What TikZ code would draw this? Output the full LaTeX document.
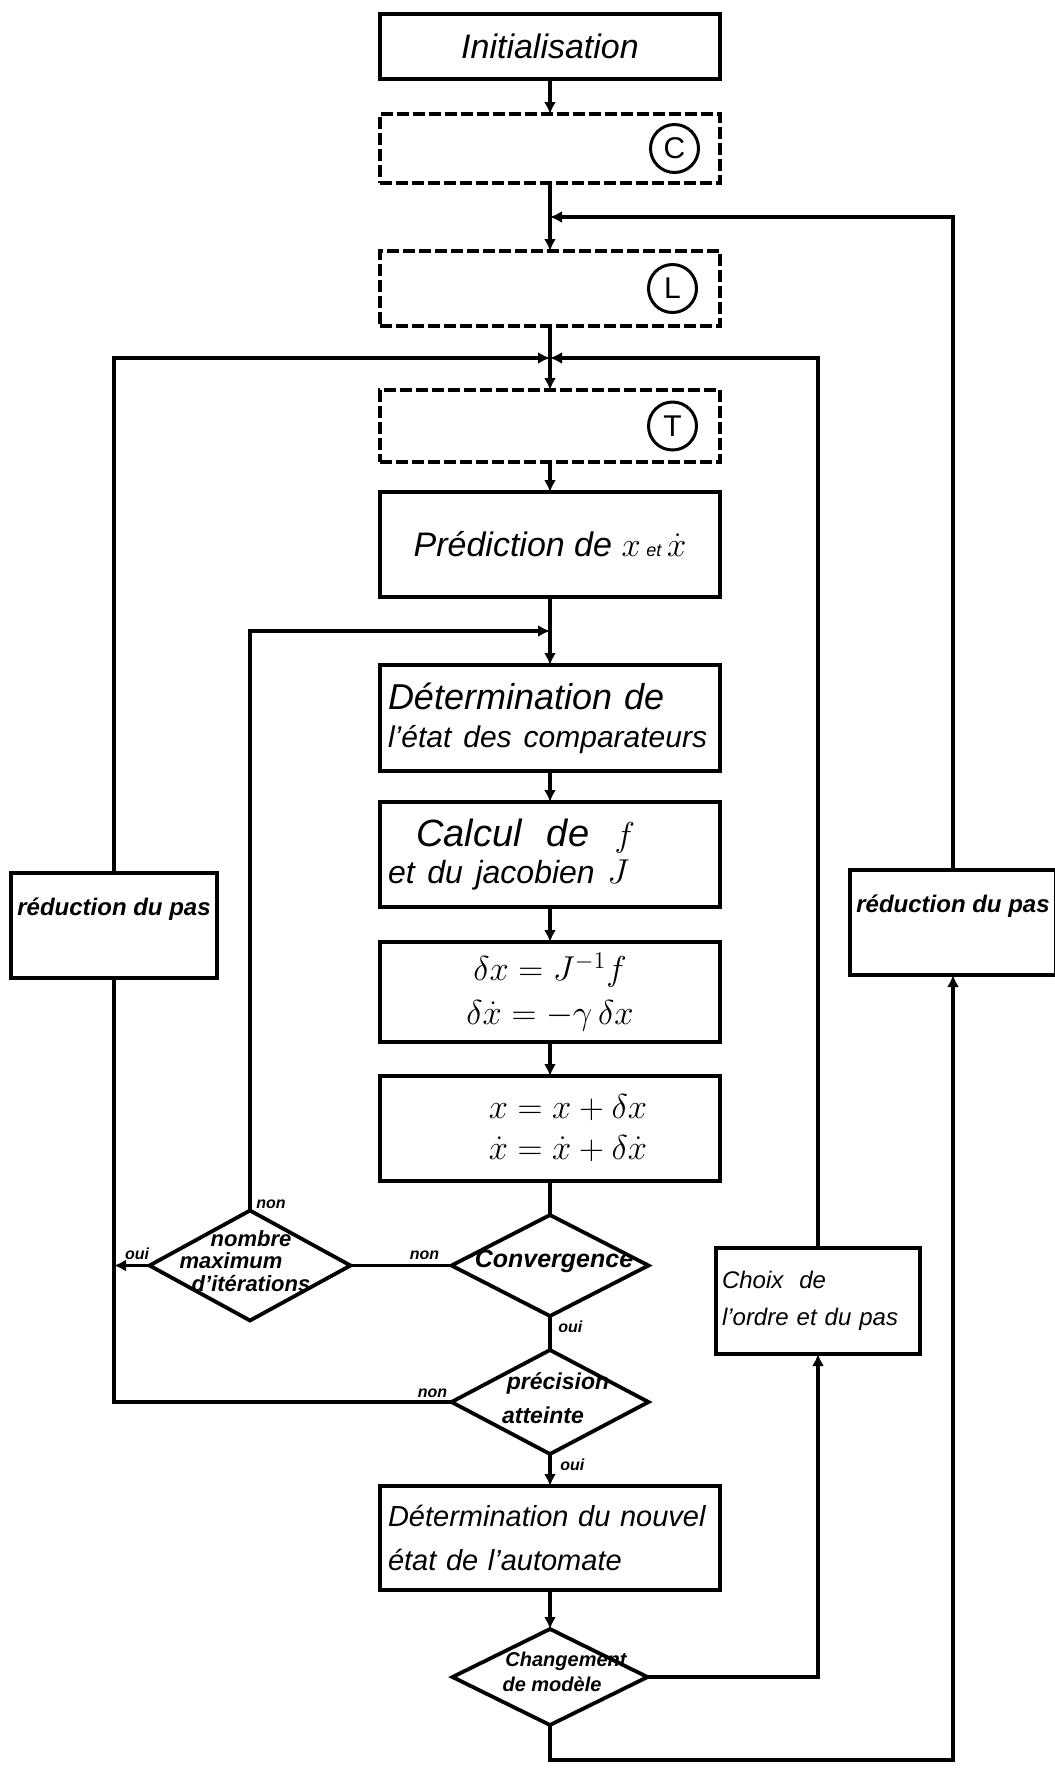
\documentclass[tikz,border=0pt]{standalone}
\usepackage{fontspec}
\setmainfont{Liberation Sans}
\usetikzlibrary{arrows.meta, positioning, shapes.geometric, calc}
\newcommand{\dtext}[3]{\makebox[0pt]{\hspace*{#1}\hspace*{#1}\raisebox{#2}[0pt][0pt]{\begin{tabular}{@{}c@{}}#3\end{tabular}}}}
\tikzset{
  box/.style={rectangle, draw, line width=1.9pt, outer sep=0pt, minimum width=170pt, align=center, inner sep=3pt},
  boxl/.style={box, text width=162pt, align=left},
  dbox/.style={box, dash pattern=on 6pt off 2pt},
  sidebox/.style={box, minimum width=102pt, minimum height=52.5pt, text depth=19pt,
    font=\fontsize{12}{14}\selectfont\bfseries\itshape},
  letter/.style={circle, draw, line width=1.5pt, minimum size=24pt, inner sep=0pt, font=\fontsize{15}{15}\selectfont},
  decide/.style={diamond, draw, line width=1.9pt, outer sep=0pt, inner sep=0pt, font=\bfseries\itshape},
  lab/.style={font=\fontsize{8}{9}\selectfont\bfseries\itshape, inner sep=1pt},
  wire/.style={line width=1.9pt},
  arrow/.style={wire, -{Latex[length=6pt, width=6pt]}},
}
\begin{document}
\begin{tikzpicture}[x=1pt, y=1pt, node distance=17pt]
\path[fill=white, use as bounding box] (0,0) rectangle (527.5,-884);
% main column
\node[box, anchor=north, minimum height=32.5pt, font=\fontsize{17}{20}\selectfont\itshape] (init) at (275,-7) {Initialisation};
\node[dbox, minimum height=34.5pt, below=17.5pt of init] (cbox) {};
\node[dbox, minimum height=37.5pt, below=34pt of cbox] (lbox) {};
\node[dbox, minimum height=36pt, below=32pt of lbox] (tbox) {};
\node[box, minimum height=52.5pt, below=15pt of tbox, font=\fontsize{17}{20}\selectfont\itshape] (pred) {Prédiction de $x$\,{\fontsize{9}{9}\selectfont et}\,$\dot{x}$};
\node[boxl, minimum height=53pt, below=34pt of pred, font=\fontsize{18}{19}\selectfont\itshape] (etat) {Détermination de\\{\fontsize{15}{19}\selectfont l'état des comparateurs}};
\node[boxl, minimum height=52.5pt, below=15.5pt of etat, font=\fontsize{19}{18.5}\selectfont\itshape] (calc) {\hspace*{14pt}Calcul\ \ de\ \ $f$\\{\fontsize{16}{18.5}\selectfont et du jacobien $J$}};
\node[box, minimum height=50pt, below=17.5pt of calc, font=\fontsize{17}{22}\selectfont] (incr) {$\delta x = J^{-1} f$\\$\delta\dot{x} = -\gamma\,\delta x$};
\node[box, minimum height=52.5pt, below=17pt of incr, font=\fontsize{17}{20.5}\selectfont] (maj) {\hspace*{18pt}$x = x + \delta x$\\\hspace*{18pt}$\dot{x} = \dot{x} + \delta\dot{x}$};
\node[decide, minimum width=98.5pt, minimum height=50.5pt, below=17pt of maj, font=\fontsize{12.5}{14}\selectfont\bfseries\itshape] (conv) {\dtext{2pt}{-1pt}{Convergence}};
\node[decide, minimum width=98.5pt, minimum height=52pt, below=17pt of conv, font=\fontsize{11.5}{17}\selectfont\bfseries\itshape] (prec) {\dtext{-3.5pt}{-2pt}{\hspace*{15pt}précision\\atteinte}};
\node[boxl, minimum height=52pt, below=16pt of prec, font=\fontsize{14.5}{22}\selectfont\itshape] (nouv) {Détermination du nouvel\\état de l'automate};
\node[decide, minimum width=97.5pt, minimum height=48pt, below=19.5pt of nouv, font=\fontsize{10}{12.5}\selectfont\bfseries\itshape] (chg) {\dtext{1pt}{-1pt}{\hspace*{14pt}Changement\\de modèle}};
% side blocks
\node[decide, minimum width=100.5pt, minimum height=55pt, left=50.5pt of conv, font=\fontsize{11}{11}\selectfont\bfseries\itshape] (nmax) {\dtext{0.5pt}{-2pt}{nombre\\maximum\hspace*{20pt}\\d'itérations}};
\node[sidebox] (lred) at (57,-462.75) {réduction du pas};
\node[sidebox] (rred) at (476.5,-461.25) {réduction du pas};
\node[boxl, text width=96pt, minimum width=102pt, minimum height=53pt, font=\fontsize{12}{18.5}\selectfont\itshape] (choix) at (409,-650.5) {Choix\ \ de\\l'ordre et du pas};
% circled letters
\node[letter, left=10pt of cbox.east] (lc) {C};
\node[letter, left=11pt of lbox.east] (ll) {L};
\node[letter, left=11pt of tbox.east] (lt) {T};
% junctions
\coordinate (jl) at ($(cbox.south)!0.5!(lbox.north)$);
\coordinate (jt) at ($(lbox.south)!0.5!(tbox.north)$);
\coordinate (jd) at ($(pred.south)!0.5!(etat.north)$);
\coordinate (bot) at (275,-880);
\foreach \a/\b in {init/cbox,jl/lbox,jt/tbox,tbox/pred,jd/etat,etat/calc,calc/incr,incr/maj,prec/nouv,nouv/chg}
  \draw[arrow] (\a) -- (\b);
\foreach \a/\b in {cbox/jl,lbox/jt,pred/jd,maj/conv,conv/prec}
  \draw[wire] (\a) -- (\b);
% loops
\draw[arrow] (nmax.north) |- (jd);
\draw[wire] (conv.west) -- (nmax.east);
\draw[arrow] (nmax.west) -- (nmax.west -| lred.south);
\draw[wire] (prec.west) -| (lred.south);
\draw[arrow] (lred.north) |- (jt);
\draw[arrow] (chg.east) -| (choix.south);
\draw[arrow] (choix.north) |- (jt);
\draw[arrow] (chg.south) -- (bot) -| (rred.south);
\draw[arrow] (rred.north) |- (jl);
% oui / non
\node[lab, anchor=south west] (n1) at ([xshift=2pt,yshift=-0.5pt]nmax.north) {non};
\node[lab, anchor=south east] (o1) at ([xshift=1pt,yshift=1.5pt]nmax.west) {oui};
\node[lab, anchor=south east] (n2) at ([xshift=-5pt,yshift=1.5pt]conv.west) {non};
\node[lab, anchor=north west] (o2) at ([xshift=3pt,yshift=-1pt]conv.south) {oui};
\node[lab, anchor=north west] (o3) at ([xshift=4pt,yshift=-1pt]prec.south) {oui};
\node[lab, anchor=south east] (n3) at ([xshift=-1pt,yshift=1pt]prec.west) {non};
\end{tikzpicture}
\end{document}
